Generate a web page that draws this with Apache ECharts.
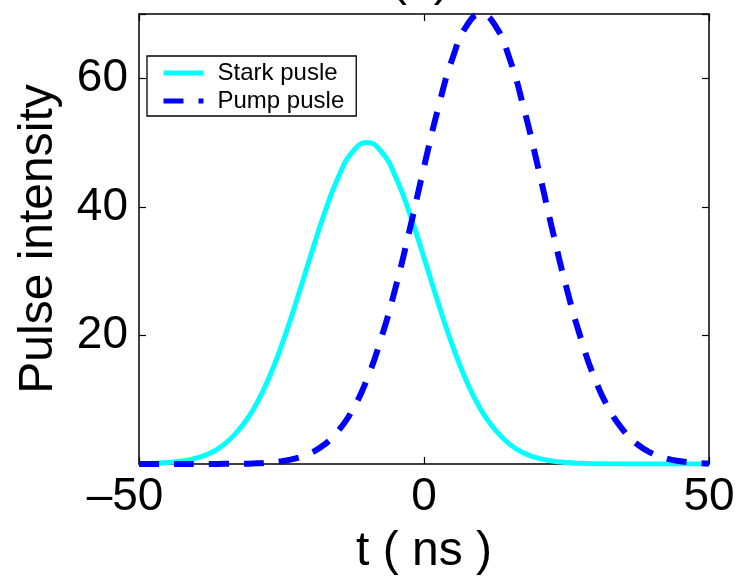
<!DOCTYPE html>
<html>
<head>
<meta charset="utf-8">
<script src="https://cdn.jsdelivr.net/npm/echarts@6/dist/echarts.min.js"></script>
<style>
html,body{margin:0;padding:0;background:#fff;}
#chart{width:740px;height:581px;}
</style>
</head>
<body>
<div id="chart"></div>
<script>
// time axis samples (ns)
var tValues = [-50,-47.5,-45,-42.5,-40,-37.5,-35,-32.5,-30,-27.5,-25,-22.5,-20,-17.5,-15,-12.5,-10,-7.5,-5,-2.5,0,2.5,5,7.5,10,12.5,15,17.5,20,22.5,25,27.5,30,32.5,35,37.5,40,42.5,45,47.5,50];
// Stark pulse intensity
var starkValues = [0.04,0.10,0.22,0.46,0.92,1.7,3.1,5.3,8.4,12.8,18.4,25.0,32.1,38.9,44.7,48.6,50,48.6,44.7,38.9,32.1,25.0,18.4,12.8,8.4,5.3,3.1,1.7,0.92,0.46,0.22,0.10,0.04,0.02,0.01,0,0,0,0,0,0];
// Pump pulse intensity
var pumpValues = [0,0,0,0,0,0.01,0.02,0.04,0.09,0.20,0.43,0.86,1.65,3.0,5.2,8.5,13.2,19.6,27.4,36.5,46.2,55.4,63.1,68.2,70,68.2,63.1,55.4,46.2,36.5,27.4,19.6,13.2,8.5,5.2,3.0,1.65,0.86,0.43,0.20,0.09];
var xTicks = [-50, 0, 50];
var yTicks = [20, 40, 60];
var seriesNames = ['Stark pusle', 'Pump pusle'];

function pairs(xs, ys){ return xs.map(function(x,i){ return [x, ys[i]]; }); }

var FONT = '"Liberation Sans", Arial, Helvetica, sans-serif';
var chart = echarts.init(document.getElementById('chart'), null, {renderer:'canvas'});
var axisLineStyle = {color:'#000', width:1.5};
chart.setOption({
  animation:false,
  backgroundColor:'#fff',
  title:{text:'(a)', left:386, top:-47, textStyle:{fontSize:48, fontWeight:'normal', color:'#000', fontFamily:FONT}},
  grid:{left:139, right:31, top:14, bottom:116, containLabel:false},
  legend:{
    orient:'vertical', left:147, top:56,
    padding:[5,12,3,14], itemWidth:40, itemHeight:18, itemGap:4,
    borderColor:'#000', borderWidth:1.3, backgroundColor:'#fff', borderRadius:0,
    itemStyle:{opacity:0, borderWidth:0},
    lineStyle:{width:5},
    textStyle:{fontSize:24, lineHeight:18, color:'#000', fontFamily:FONT, padding:[0,0,0,9]},
    data:seriesNames
  },
  xAxis:[{
    type:'value', min:-50, max:50, interval:50, position:'bottom',
    axisLine:{show:true, onZero:false, lineStyle:axisLineStyle},
    axisTick:{show:true, inside:true, length:7, lineStyle:{color:'#000', width:1.2}},
    splitLine:{show:false},
    axisLabel:{
      fontSize:46, color:'#000', fontFamily:FONT, margin:10,
      formatter:function(v){
        if (xTicks.indexOf(v) < 0) return '';
        if (v < 0) return '{n|\u2013' + Math.abs(v) + '}';
        return String(v);
      },
      rich:{n:{fontSize:46, color:'#000', fontFamily:FONT, padding:[0,28,0,0]}}
    },
    name:'t ( ns )', nameLocation:'middle', nameGap:64,
    nameTextStyle:{fontSize:48, color:'#000', fontFamily:FONT}
  },{
    type:'value', min:-50, max:50, interval:50, position:'top',
    axisLine:{show:true, onZero:false, lineStyle:axisLineStyle},
    axisTick:{show:true, inside:true, length:7, lineStyle:{color:'#000', width:1.2}},
    axisLabel:{show:false}, splitLine:{show:false}
  }],
  yAxis:[{
    type:'value', min:0, max:70, interval:20, position:'left',
    axisLine:{show:true, onZero:false, lineStyle:axisLineStyle},
    axisTick:{show:true, inside:true, length:7, lineStyle:{color:'#000', width:1.2}},
    splitLine:{show:false},
    axisLabel:{
      fontSize:46, color:'#000', fontFamily:FONT, margin:11,
      formatter:function(v){ return yTicks.indexOf(v) >= 0 ? String(v) : ''; }
    },
    name:'Pulse intensity', nameLocation:'middle', nameGap:76,
    nameTextStyle:{fontSize:48, color:'#000', fontFamily:FONT}
  },{
    type:'value', min:0, max:70, interval:20, position:'right',
    axisLine:{show:true, onZero:false, lineStyle:axisLineStyle},
    axisTick:{show:true, inside:true, length:7, lineStyle:{color:'#000', width:1.2}},
    axisLabel:{show:false}, splitLine:{show:false}
  }],
  series:[{
    name:seriesNames[0], type:'line', smooth:true, symbol:'none',
    xAxisIndex:0, yAxisIndex:0,
    lineStyle:{color:'#00FFFF', width:5},
    itemStyle:{color:'#00FFFF'},
    data:pairs(tValues, starkValues), z:2
  },{
    name:seriesNames[1], type:'line', smooth:true, symbol:'none',
    xAxisIndex:0, yAxisIndex:0,
    lineStyle:{color:'#0000FF', width:6, type:[20,15], cap:'butt'},
    itemStyle:{color:'#0000FF'},
    data:pairs(tValues, pumpValues), z:3
  }]
});
</script>
</body>
</html>
